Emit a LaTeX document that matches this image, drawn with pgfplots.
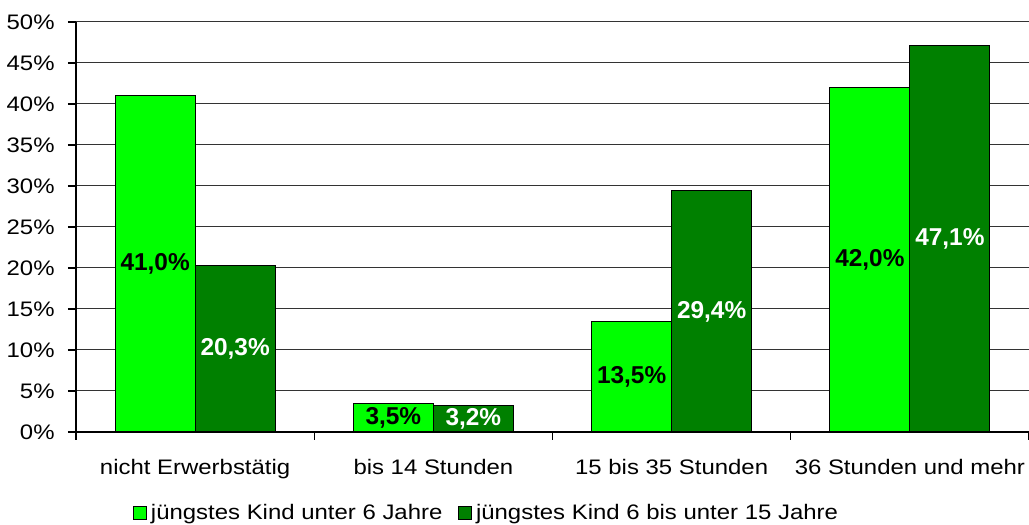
\documentclass[border=0pt]{standalone}
\usepackage{fontspec}
\setmainfont{Liberation Sans}[FakeStretch=1.14]
\newfontfamily\lblfont{Liberation Sans}
\usepackage{pgfplots}
\pgfplotsset{compat=1.18}
\usetikzlibrary{calc}
\definecolor{lgreen}{RGB}{0,255,0}
\definecolor{dgreen}{RGB}{0,128,0}
\begin{document}
\fontsize{10.5}{12.5}\selectfont
\begin{tikzpicture}
\begin{axis}[
  name=ax,
  scale only axis, width=476.5pt, height=205pt,
  ybar=0pt, bar width=40pt,
  xmin=-0.5, xmax=3.5, ymin=0, ymax=50,
  axis x line*=bottom, axis y line*=left,
  axis line style={black, line width=0.6pt},
  tick align=outside,
  /pgf/number format/assume math mode=true,
  ytick={0,5,...,50},
  yticklabel={\pgfmathprintnumber{\tick}\%},
  yticklabel style={xshift=-3pt},
  y tick style={black, line width=0.6pt},
  major tick length=4pt,
  ymajorgrids, grid style={black!80, line width=0.5pt},
  xtick={-0.5,0.5,1.5,2.5,3.5}, xticklabels={},
  x tick style={black, line width=0.6pt},
  extra x ticks={0,1,2,3},
  extra x tick labels={nicht Erwerbstätig, bis 14 Stunden, 15 bis 35 Stunden, 36 Stunden und mehr},
  extra x tick style={tick style={draw=none}, tick label style={yshift=-6pt}},
  nodes near coords={\pgfmathprintnumber[fixed,fixed zerofill,precision=1,use comma,assume math mode=true]{\pgfplotspointmeta}\%},
  visualization depends on={rawy \as \rawy},
  every node near coord/.append style={anchor=center, font=\lblfont\bfseries\fontsize{12.2}{14}\selectfont, shift={(axis direction cs:0,-\rawy/2)}},
  legend style={at={(0.432,-0.198)}, anchor=center, draw=none, legend columns=2, font=\fontsize{10.5}{12.5}\selectfont,
    /tikz/every even column/.append style={column sep=6pt}},
  legend image code/.code={\draw[#1,draw=black,line width=0.4pt] (0pt,-3.2pt) rectangle (6.4pt,3.2pt);},
]
\addplot[fill=lgreen, draw=black, line width=0.5pt, every node near coord/.append style={text=black}]
  coordinates {(0,41.0) (1,3.5) (2,13.5) (3,42.0)};
\addplot[fill=dgreen, draw=black, line width=0.5pt, every node near coord/.append style={text=white}]
  coordinates {(0,20.3) (1,3.2) (2,29.4) (3,47.1)};
\legend{jüngstes Kind unter 6 Jahre, jüngstes Kind 6 bis unter 15 Jahre}
\end{axis}
\pgfresetboundingbox
\path[use as bounding box] ($(ax.south west)+(-38pt,-46.5pt)$) rectangle ($(ax.north east)+(0pt,11pt)$);
\end{tikzpicture}
\end{document}
